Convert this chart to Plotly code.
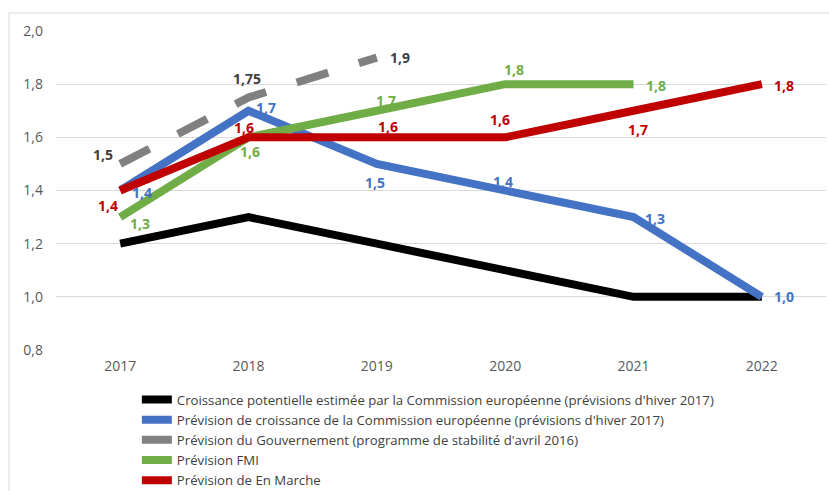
import plotly.graph_objects as go

years = ["2017", "2018", "2019", "2020", "2021", "2022"]

potentielle = [1.2, 1.3, 1.2, 1.1, 1.0, 1.0]
commission = [1.4, 1.7, 1.5, 1.4, 1.3, 1.0]
gouvernement = [1.5, 1.75, 1.9]
fmi = [1.3, 1.6, 1.7, 1.8, 1.8]
en_marche = [1.4, 1.6, 1.6, 1.6, 1.7, 1.8]

names = [
    "Croissance potentielle estimée par la Commission européenne (prévisions d'hiver 2017)",
    "Prévision de croissance de la Commission européenne (prévisions d'hiver 2017)",
    "Prévision du Gouvernement (programme de stabilité d'avril 2016)",
    "Prévision FMI",
    "Prévision de En Marche",
]

# label pixel offsets (dx right, dy down) relative to each point
off_commission = [(22, 2), (17, -3), (-2, 19), (-2, -9), (21, 1), (22, 0)]
off_gouvernement = [(-17, -9), (-2, -19), (23, 0)]
off_fmi = [(20, 6), (1, 14), (9, -10), (9, -15), (22, 1)]
off_en_marche = [(-12, 15), (-5, -10), (11, -11), (-5, -18), (4, 19), (22, 1)]

FONT = "Open Sans, Noto Sans, sans-serif"
LW = 8

def label(v):
    s = f"{v:.2f}"
    if s.endswith("0"):
        s = s[:-1]
    return s.replace(".", ",")

fig = go.Figure()
fig.add_trace(go.Scatter(x=years, y=potentielle, name=names[0], mode="lines",
                         line=dict(color="#000000", width=LW)))
fig.add_trace(go.Scatter(x=years, y=commission, name=names[1], mode="lines",
                         line=dict(color="#4472C4", width=LW)))
fig.add_trace(go.Scatter(x=years[:3], y=gouvernement, name=names[2], mode="lines",
                         line=dict(color="#808080", width=LW, dash="33px,32px")))
fig.add_trace(go.Scatter(x=years[:5], y=fmi, name=names[3], mode="lines",
                         line=dict(color="#70AD47", width=LW)))
fig.add_trace(go.Scatter(x=years, y=en_marche, name=names[4], mode="lines",
                         line=dict(color="#C00000", width=LW)))

annotations = []
for vals, offs, col in [
    (commission, off_commission, "#4472C4"),
    (gouvernement, off_gouvernement, "#404040"),
    (fmi, off_fmi, "#70AD47"),
    (en_marche, off_en_marche, "#C00000"),
]:
    for i, (y, (dx, dy)) in enumerate(zip(vals, offs)):
        annotations.append(dict(
            x=i, y=y, xref="x", yref="y", text=label(y), showarrow=False,
            xanchor="center", yanchor="middle", xshift=dx, yshift=-dy,
            font=dict(family=FONT, size=14, color=col, weight=700),
        ))

fig.update_layout(
    width=829, height=491,
    margin=dict(l=56, r=3, t=31, b=141),
    paper_bgcolor="white", plot_bgcolor="white",
    separators=", ",
    font=dict(family=FONT, size=14, color="#595959"),
    showlegend=True,
    legend=dict(
        orientation="v", xref="paper", yref="container",
        x=0.105, xanchor="left", y=0.217, yanchor="top",
        font=dict(family=FONT, size=13.2, color="#404040"),
        tracegroupgap=0, itemwidth=30, bgcolor="rgba(0,0,0,0)",
    ),
    xaxis=dict(
        type="category", range=[-0.5, 5.5], showgrid=False, zeroline=False,
        showline=False, ticks="", tickfont=dict(size=14, color="#595959"),
        ticklabelstandoff=6,
    ),
    yaxis=dict(
        range=[0.8, 2.0], dtick=0.2, tick0=0.8, tickformat=".1f",
        showgrid=True, gridcolor="#D9D9D9", gridwidth=1, zeroline=False,
        showline=False, ticks="", tickfont=dict(size=14, color="#595959"),
        ticklabelstandoff=12,
    ),
    annotations=annotations,
    shapes=[dict(
        type="rect", xref="paper", yref="paper",
        x0=-(56 - 9) / 770, x1=1.01, y0=-0.6, y1=1 + (31 - 13) / 319,
        line=dict(color="#D9D9D9", width=1), fillcolor="rgba(0,0,0,0)", layer="below",
    )],
)

fig.write_html("out.html")
